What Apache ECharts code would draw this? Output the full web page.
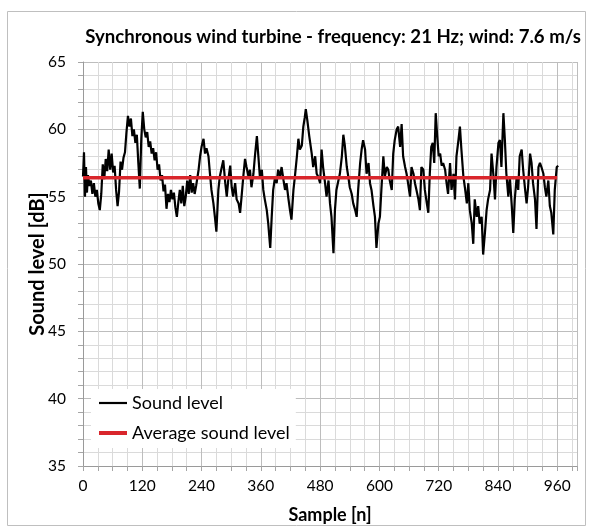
<!DOCTYPE html>
<html><head><meta charset="utf-8">
<script src="https://cdn.jsdelivr.net/npm/echarts@6/dist/echarts.min.js"></script>
<style>html,body{margin:0;padding:0;background:#fff}#c{width:593px;height:531px}</style>
</head><body><div id="c"></div>
<script>
const titleText = 'Synchronous wind turbine - frequency: 21 Hz; wind: 7.6 m/s';
const xName = 'Sample [n]';
const yName = 'Sound level [dB]';
const seriesNames = ['Sound level', 'Average sound level'];
const xTicks = [0, 120, 240, 360, 480, 600, 720, 840, 960];
const yTicks = [35, 40, 45, 50, 55, 60, 65];
const averageLevel = 56.4;
const averageRange = [0, 960];
const samples = [0,2,4,6,8,10,13,16,19,22,25,28,31,34,37,40,43,46,49,52,55,58,61,64,67,70,73,76,79,82,85,88,91,94,97,100,103,106,109,112,115,118,121,124,127,130,133,136,139,142,145,148,151,154,157,160,163,166,169,172,175,178,181,184,187,190,193,196,199,202,205,208,211,214,217,220,223,226,229,
234,237,240,244,247,250,254,257,260,264,267,270,274,277,281,284,288,291,294,298,301,304,308,311,315,318,321,325,328,331,335,338,341,345,348,352,355,358,362,365,368,372,375,379,382,385,389,392,395,399,402,406,409,412,416,419,422,426,429,433,436,439,443,446,449,451,454,458,463,466,470,473,476,480,
483,486,490,493,497,500,503,507,510,513,517,520,524,527,530,534,537,540,544,547,551,554,557,561,564,567,571,574,578,581,584,588,591,594,598,601,604,608,611,615,618,621,625,628,631,635,638,642,645,648,652,655,658,662,665,669,672,675,679,682,685,689,692,696,699,702,
705,708,711,714,717,720,723,726,729,733,736,739,743,746,750,753,756,760,763,766,770,773,777,780,783,787,790,793,797,800,803,807,810,814,817,820,824,827,831,834,837,841,844,847,851,854,857,861,864,868,871,874,878,881,884,888,891,895,898,901,905,908,911,915,918,922,925,928,932,935,938,942,945,948,952,955,959,962];
const soundLevel = [56.5,58.3,55.0,57.2,55.3,56.6,55.8,56.2,55.2,56.0,55.0,55.5,54.5,54.0,55.2,57.4,56.3,57.8,56.9,58.5,57.0,58.2,56.8,57.3,55.5,54.3,55.4,57.6,57.0,57.9,58.3,59.8,61.0,60.2,60.8,59.5,60.0,59.0,59.6,57.5,55.6,59.3,61.3,60.0,59.4,59.8,58.7,59.1,58.2,58.6,57.7,58.3,57.0,57.4,56.2,56.6,55.4,55.9,54.1,55.2,54.6,55.5,54.8,55.3,54.2,53.5,54.6,55.5,54.5,55.8,54.3,55.0,56.2,55.2,56.6,55.3,56.0,55.2,55.8,
57.0,58.0,58.7,59.3,58.2,58.6,58.0,56.7,55.5,54.5,53.5,52.4,55.5,56.5,57.2,57.7,56.0,55.0,56.2,57.3,55.7,55.0,56.0,54.8,54.5,53.8,55.0,56.7,57.8,57.2,56.5,57.0,55.7,56.7,58.0,59.5,58.0,56.5,57.0,55.5,54.8,54.0,53.0,51.2,53.5,55.5,56.5,56.0,57.0,56.5,57.2,56.2,55.5,56.0,54.8,54.0,53.3,55.5,56.5,58.0,59.3,58.5,58.8,60.2,60.9,61.5,60.7,59.5,58.2,57.2,58.0,56.7,56.5,56.0,
58.5,57.2,56.0,55.0,56.2,54.5,53.5,50.8,54.0,55.5,56.2,56.7,58.0,59.6,58.8,57.2,56.5,55.7,55.2,54.5,54.0,53.5,55.5,57.5,58.5,59.2,58.5,56.7,57.5,56.0,55.5,54.3,53.5,51.2,53.0,53.5,55.5,58.0,56.5,57.2,57.0,56.2,55.5,58.2,59.2,60.0,60.2,58.7,60.4,58.0,57.2,56.7,56.0,55.0,57.2,56.7,56.0,55.5,54.8,54.0,57.2,57.0,55.5,54.5,53.8,56.7,
58.7,59.0,57.5,61.2,59.5,58.0,58.2,57.3,57.5,57.0,56.0,55.2,57.5,55.5,56.7,54.8,58.0,59.2,60.2,58.5,56.5,55.7,54.5,56.0,54.0,53.0,51.5,54.8,53.5,54.3,53.0,53.5,50.7,52.5,54.0,54.8,55.5,58.2,56.5,54.8,57.2,59.0,59.2,57.2,61.2,59.2,56.7,55.0,56.5,54.3,52.3,54.8,56.5,55.5,58.0,58.5,57.0,55.5,54.5,55.7,58.2,57.5,56.0,54.8,52.6,57.2,57.5,57.2,56.7,55.7,55.0,56.2,54.3,53.8,52.2,55.5,57.2,57.3];

const labelFont = 'Lato, "Open Sans", sans-serif';
const chart = echarts.init(document.getElementById('c'), null, {renderer: 'canvas'});
const soundData = samples.map((s, i) => [s, soundLevel[i]]);
const avgData = averageRange.map(s => [s, averageLevel]);
const option = {
  animation: false,
  backgroundColor: '#fff',
  textStyle: {fontFamily: labelFont},
  graphic: [
    {type: 'rect', shape: {x: 7.5, y: 11.5, width: 578, height: 514}, style: {fill: 'none', stroke: '#bfbfbf', lineWidth: 1}, z: -1},
    {type: 'text', x: 333, y: 37, style: {text: titleText, fontFamily: labelFont, fontWeight: 'bold', fontSize: 18.6, fill: '#000', align: 'center', verticalAlign: 'middle'}}
  ],
  grid: {left: 83, right: 16, top: 62, bottom: 65},
  legend: {
    orient: 'vertical', left: 91, top: 389, backgroundColor: '#fff',
    padding: [5, 6, 6, 8], itemGap: 12, itemWidth: 28, itemHeight: 20,
    textStyle: {fontSize: 18, color: '#000', fontFamily: labelFont},
    data: [
      {name: seriesNames[0], icon: 'path://M0 0H28V2.2H0Z'},
      {name: seriesNames[1], icon: 'path://M0 0H28V4H0Z'}
    ]
  },
  xAxis: [
    {type: 'value', min: 0, max: 1000, interval: 30, position: 'bottom',
     axisLine: {show: false}, axisLabel: {show: false},
     axisTick: {show: true, length: 5, lineStyle: {color: '#a6a6a6'}},
     splitLine: {show: true, lineStyle: {color: '#dadada', width: 1}}},
    {type: 'value', min: 0, max: 1000, interval: 120, position: 'bottom',
     name: xName, nameLocation: 'middle', nameGap: 40, nameMoveOverlap: false,
     nameTextStyle: {fontSize: 18, fontWeight: 'bold', color: '#000', fontFamily: labelFont},
     axisLine: {show: true, lineStyle: {color: '#9a9a9a'}},
     axisTick: {show: false},
     axisLabel: {fontSize: 15.5, color: '#000', margin: 12, showMaxLabel: false,
       formatter: v => xTicks.indexOf(v) >= 0 ? String(v) : ''},
     splitLine: {show: true, lineStyle: {color: '#bdbdbd', width: 1}}}
  ],
  yAxis: {
    type: 'value', min: yTicks[0], max: yTicks[yTicks.length - 1], interval: 5,
    name: yName, nameLocation: 'middle', nameGap: 35, nameMoveOverlap: false,
    nameTextStyle: {fontSize: 20, fontWeight: 'bold', color: '#000', fontFamily: labelFont},
    axisLine: {show: true, lineStyle: {color: '#9a9a9a'}},
    axisTick: {show: true, length: 5, lineStyle: {color: '#a6a6a6'}},
    minorTick: {show: true, splitNumber: 5, length: 5, lineStyle: {color: '#a6a6a6'}},
    axisLabel: {fontSize: 15.5, color: '#000', margin: 17},
    splitLine: {show: true, lineStyle: {color: '#bdbdbd'}},
    minorSplitLine: {show: true, lineStyle: {color: '#dadada'}}
  },
  series: [
    {name: seriesNames[0], type: 'line', xAxisIndex: 1, data: soundData, showSymbol: false, symbol: 'none',
     lineStyle: {color: '#000', width: 2.2}, itemStyle: {color: '#000'}, z: 3},
    {name: seriesNames[1], type: 'line', xAxisIndex: 1, data: avgData, showSymbol: false, symbol: 'none',
     lineStyle: {color: '#d9262c', width: 3.5}, itemStyle: {color: '#d9262c'}, z: 4}
  ]
};
chart.setOption(option);
</script></body></html>
